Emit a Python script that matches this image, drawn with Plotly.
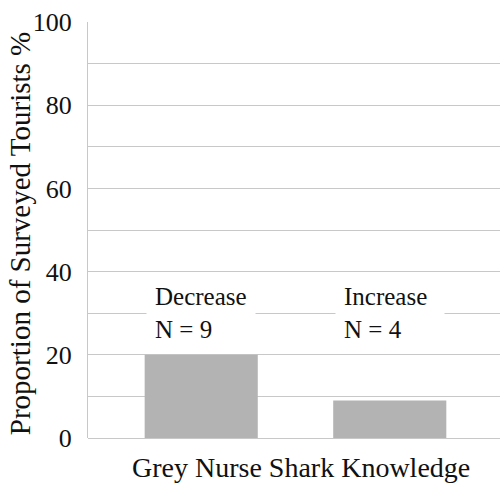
import plotly.graph_objects as go

categories = ["Decrease", "Increase"]
values = [20, 9]
counts = [9, 4]
y_tick_vals = [0, 10, 20, 30, 40, 50, 60, 70, 80, 90, 100]
y_tick_text = ["0", "", "20", "", "40", "", "60", "", "80", "", "100"]
x_title = "Grey Nurse Shark Knowledge"
y_title = "Proportion of Surveyed Tourists %"

FONT = "Liberation Serif"

fig = go.Figure()
fig.add_trace(go.Bar(
    x=categories, y=values, width=0.6,
    marker=dict(color="#b3b3b3", line=dict(width=0)),
    hoverinfo="skip",
))

for c, n in zip(categories, counts):
    fig.add_annotation(
        x=c, y=30, xref="x", yref="y",
        text=f"{c}<br>N = {n}",
        showarrow=False, align="left",
        xanchor="center", yanchor="middle",
        width=92, borderpad=8, bgcolor="white",
        font=dict(family=FONT, size=25, color="#111111"),
    )

fig.add_annotation(
    x=0.516, y=-0.072, xref="paper", yref="paper",
    text=x_title, showarrow=False, xanchor="center", yanchor="middle",
    font=dict(family=FONT, size=28, color="#111111"),
)
fig.add_annotation(
    x=-0.165, y=0.49, xref="paper", yref="paper",
    text=y_title, showarrow=False, xanchor="center", yanchor="middle",
    textangle=-90,
    font=dict(family=FONT, size=29, color="#111111"),
)

fig.update_layout(
    width=500, height=488,
    margin=dict(l=88, r=0, t=22, b=50),
    paper_bgcolor="white", plot_bgcolor="white",
    font=dict(family=FONT, color="#111111"),
    showlegend=False,
    bargap=0.4,
    hovermode=False,
    xaxis=dict(
        type="category", range=[-0.6005, 1.5847],
        showticklabels=False, ticks="", showgrid=False,
        showline=False, zeroline=False, fixedrange=True,
    ),
    yaxis=dict(
        range=[0, 100], tickvals=y_tick_vals, ticktext=y_tick_text,
        showgrid=True, gridcolor="#c8c8c8", gridwidth=1,
        showline=True, linecolor="#c8c8c8", linewidth=1,
        zeroline=True, zerolinecolor="#c8c8c8", zerolinewidth=1,
        ticks="", ticklabelstandoff=10, fixedrange=True,
        tickfont=dict(family=FONT, size=26, color="#111111"),
    ),
)

fig.write_html("out.html", config={"displayModeBar": False},
               post_script="document.body.style.margin='0';")
